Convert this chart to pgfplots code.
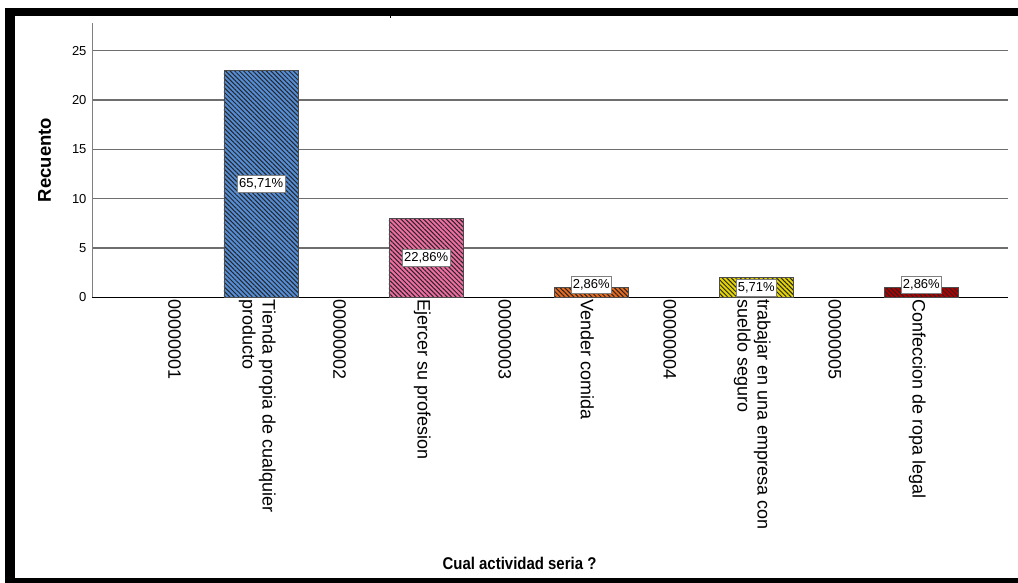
\documentclass[border=0pt]{standalone}
\usepackage{fontspec}
\setmainfont{Liberation Sans}
\usepackage{graphicx}
\usepackage{pgfplots}
\pgfplotsset{compat=1.18}
\usetikzlibrary{patterns.meta}
\definecolor{cblue}{RGB}{84,141,216}
\definecolor{cpink}{RGB}{240,108,162}
\definecolor{corange}{RGB}{232,106,30}
\definecolor{cyellow}{RGB}{228,212,0}
\definecolor{cred}{RGB}{178,0,0}
\definecolor{gridc}{RGB}{110,110,110}
\begin{document}
\begin{tikzpicture}
\path[use as bounding box] (0,0) rectangle (1018pt,583pt);
\fill[white] (0,0) rectangle (1018pt,583pt);
% frame
\fill[black] (5pt,566.5pt) rectangle (1018pt,575pt);
\fill[black] (5pt,0pt) rectangle (15pt,575pt);
\fill[black] (5pt,0pt) rectangle (1018pt,5pt);
\fill[black] (389.5pt,566.5pt) rectangle (391pt,564.5pt);
\begin{axis}[
  at={(92pt,285.5pt)}, anchor=south west,
  scale only axis, width=916pt, height=274.5pt,
  xmin=-1.05, xmax=10.05, ymin=0, ymax=27.8,
  axis lines*=left,
  x axis line style={black, line width=1.2pt},
  y axis line style={gray, line width=0.8pt},
  major tick length=0pt,
  ytick={0,5,10,15,20,25},
  ymajorgrids,
  grid style={color=gridc, line width=1.3pt},
  /pgf/number format/assume math mode=true,
  yticklabel style={font=\fontsize{13}{15}\selectfont, xshift=-2pt},
  xtick={0,1,2,3,4,5,6,7,8,9},
  xticklabels={00000001,{Tienda propia de cualquier\\producto},00000002,Ejercer su profesion,00000003,Vender comida,00000004,{trabajar en una empresa con\\sueldo seguro},00000005,Confeccion de ropa legal},
  xticklabel style={rotate=-90, anchor=west, align=left, font=\fontsize{18}{20}\selectfont, inner sep=2pt, xshift=0pt, yshift=-4pt},
  clip=false,
]
\addplot[ybar, bar width=74.5pt, bar shift=0pt, fill=cblue, draw=black!70, line width=0.8pt,
  postaction={pattern color=black!85, pattern={Lines[angle=-45,distance=3.2pt,line width=1pt]}}]
  coordinates {(1,23)};
\addplot[ybar, bar width=74.5pt, bar shift=0pt, fill=cpink, draw=black!70, line width=0.8pt,
  postaction={pattern color=black!85, pattern={Lines[angle=-45,distance=3.2pt,line width=1pt]}}]
  coordinates {(3,8)};
\addplot[ybar, bar width=74.5pt, bar shift=0pt, fill=corange, draw=black!70, line width=0.8pt,
  postaction={pattern color=black!85, pattern={Lines[angle=-45,distance=3.2pt,line width=1pt]}}]
  coordinates {(5,1)};
\addplot[ybar, bar width=74.5pt, bar shift=0pt, fill=cyellow, draw=black!70, line width=0.8pt,
  postaction={pattern color=black!85, pattern={Lines[angle=-45,distance=3.2pt,line width=1pt]}}]
  coordinates {(7,2)};
\addplot[ybar, bar width=74.5pt, bar shift=0pt, fill=cred, draw=black!70, line width=0.8pt,
  postaction={pattern color=black!85, pattern={Lines[angle=-45,distance=3.2pt,line width=1pt]}}]
  coordinates {(9,1)};
\tikzset{pct/.style={fill=white, draw=gray, line width=0.8pt, inner xsep=1.8pt, inner ysep=3pt, font=\fontsize{13}{15}\selectfont}}
\node[pct] at (axis cs:1,11.5) {65,71\%};
\node[pct] at (axis cs:3,4) {22,86\%};
\node[pct] at (axis cs:5,1.25) {2,86\%};
\node[pct] at (axis cs:7,0.95) {5,71\%};
\node[pct] at (axis cs:9,1.25) {2,86\%};
\end{axis}
\node[rotate=90, font=\bfseries\fontsize{18.5}{20}\selectfont] at (44.5pt,423pt) {Recuento};
\node[anchor=base, inner sep=0pt] at (519.5pt,13pt) {\scalebox{0.88}[1]{\fontsize{17}{19}\selectfont\bfseries Cual actividad seria ?}};
\end{tikzpicture}
\end{document}
